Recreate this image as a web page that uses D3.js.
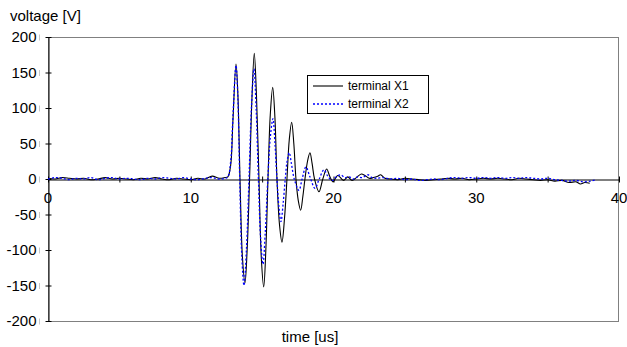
<!DOCTYPE html>
<html>
<head>
  <meta charset="utf-8">
  <title>voltage vs time</title>
  <style>
  body { margin: 0px; background: #fff; }
  text { font-family: "Liberation Sans", Arial, sans-serif; fill: #000; }
  .border { fill: none; stroke: #808080; stroke-width: 1px; }
  .x1 { fill: none; stroke: #000; stroke-width: 1.1px; }
  .x2 { fill: none; stroke: #0000ff; stroke-width: 1.3px; stroke-dasharray: 2,2; }
  </style>
</head>
<body>
  <svg width="627" height="347"></svg>
  <script src="https://d3js.org/d3.v7.min.js"></script>
  <script>
  // values: [time us, voltage V]
  var terminalX1 = [
    [0,1],[0.5,0],[1,2],[1.5,1],[2,0],[2.5,1],[3,-1],[3.5,0],[4,2],[4.5,0],[5,1],[5.5,0],
    [6,-1],[6.5,1],[7,0],[7.5,2],[8,0],[8.5,-1],[9,1],[9.5,0],[10,-1],[10.5,1],[11,0],
    [11.5,4],[12,1],[12.4,2],[12.6,3],[12.8,20],[12.95,80],[13.17,162],[13.3,120],[13.45,0],
    [13.62,-110],[13.8,-146],[13.95,-100],[14.12,0],[14.28,110],[14.45,177],[14.6,120],
    [14.78,0],[14.94,-110],[15.11,-152],[15.26,-100],[15.41,0],[15.57,90],[15.74,129],
    [15.9,85],[16.04,0],[16.22,-65],[16.39,-89],[16.57,-55],[16.74,0],[16.9,55],[17.07,80],
    [17.22,50],[17.37,0],[17.53,-30],[17.7,-44],[17.85,-25],[18.0,0],[18.18,25],[18.35,37],
    [18.5,22],[18.67,0],[18.98,-18],[19.25,0],[19.52,14],[19.75,3],[19.96,-4],[20.3,5],
    [20.7,-2],[21.0,3],[21.3,-2],[21.6,2],[21.95,7],[22.2,5],[22.5,1],[22.8,2],[23.1,4],
    [23.3,6],[23.6,1],[24,0],[24.5,-1],[25,1],[25.5,0],[26,-1],[26.5,-2],[27,-1],[27.5,0],
    [28,1],[28.5,0],[29,1],[29.5,-1],[30,0],[30.5,1],[31,0],[31.5,1],[32,0],[32.5,-1],
    [33,1],[33.5,0],[34,-1],[34.5,-2],[35,-1],[35.5,-3],[36,-2],[36.5,-5],[37,-4],
    [37.3,-7],[37.6,-5],[37.95,-6]
  ];
  var terminalX2 = [
    [0,0],[0.5,2],[1,1],[1.5,-1],[2,1],[2.5,0],[3,2],[3.5,-1],[4,1],[4.5,2],[5,0],[5.5,1],
    [6,0],[6.5,-1],[7,1],[7.5,0],[8,2],[8.5,1],[9,0],[9.5,2],[10,0],[10.5,-1],[11,1],
    [11.5,2],[12,0],[12.4,1],[12.6,3],[12.8,25],[12.95,85],[13.17,160],[13.3,115],[13.43,0],
    [13.58,-110],[13.73,-150],[13.9,-100],[14.08,0],[14.25,100],[14.43,155],[14.58,100],
    [14.74,0],[14.9,-85],[15.06,-120],[15.22,-75],[15.4,0],[15.58,60],[15.76,85],[15.9,50],
    [16.04,0],[16.18,-40],[16.32,-60],[16.47,-35],[16.62,0],[16.75,25],[16.9,37],[17.05,22],
    [17.25,0],[17.58,-16],[17.8,0],[18.07,17],[18.35,3],[18.7,-13],[19.0,0],[19.33,13],
    [19.6,4],[19.9,-2],[20.2,3],[20.5,6],[20.8,2],[21.1,3],[21.4,0],[21.7,3],[22.0,2],
    [22.4,6],[22.7,2],[23,1],[23.5,2],[24,0],[24.5,1],[25,-1],[25.5,0],[26,-2],[26.5,-1],
    [27,0],[27.5,-1],[28,1],[28.5,2],[29,1],[29.5,2],[30,1],[30.5,2],[31,1],[31.5,2],
    [32,1],[32.5,2],[33,1],[33.5,2],[34,1],[34.5,0],[35,1],[35.5,-1],[36,-2],[36.5,-3],
    [37,-2],[37.5,-4],[38,-3],[38.4,-1]
  ];
  var seriesNames = ["terminal X1", "terminal X2"];
  var xTicks = [0, 10, 20, 30, 40];
  var xMinorTicks = [0, 5, 10, 15, 20, 25, 30, 35, 40];
  var yTicks = [-200, -150, -100, -50, 0, 50, 100, 150, 200];

  var svg = d3.select("svg");
  var plotLeft = 48, plotRight = 619, plotTop = 37, plotBottom = 321;

  var x = d3.scaleLinear().domain([0, 40]).range([plotLeft, plotRight]);
  var y = d3.scaleLinear().domain([-200, 200]).range([plotBottom, plotTop]);

  // plot area border
  svg.append("rect")
    .attr("class", "border")
    .attr("x", plotLeft + 0.5).attr("y", plotTop + 0.5)
    .attr("width", plotRight - plotLeft - 1).attr("height", plotBottom - plotTop);

  // y axis (ticks cross the line), plain hyphen for negatives
  var yAxis = svg.append("g")
    .attr("transform", "translate(" + (plotLeft + 0.5) + ",0)")
    .call(d3.axisLeft(y).tickValues(yTicks).tickSize(0).tickPadding(12)
      .tickFormat(function(d) { return String(d); }));
  yAxis.select(".domain").attr("stroke", "#000");
  yAxis.selectAll(".tick").append("line")
    .attr("x1", -3).attr("x2", 3).attr("stroke", "#000");
  yAxis.selectAll(".tick").append("line")
    .attr("x1", -9).attr("x2", -9).attr("y1", -3).attr("y2", 3).attr("stroke", "#c8c8c8");
  yAxis.selectAll("text").attr("font-size", "15px").attr("font-family", null);

  // x axis at zero volts
  var xAxis = svg.append("g")
    .attr("transform", "translate(0," + (Math.round(y(0)) + 0.5) + ")")
    .call(d3.axisBottom(x).tickValues(xMinorTicks).tickSize(0).tickFormat(""));
  xAxis.select(".domain").attr("stroke", "#000");
  xAxis.selectAll(".tick").append("line")
    .attr("y1", -3).attr("y2", 3).attr("stroke", "#000");

  svg.append("g").selectAll("text")
    .data(xTicks).enter().append("text")
    .attr("x", function(d) { return x(d); })
    .attr("y", y(0) + 24)
    .attr("text-anchor", "middle")
    .attr("font-size", "15px")
    .text(function(d) { return d; });

  var line = d3.line()
    .x(function(d) { return x(d[0]); })
    .y(function(d) { return y(d[1]); })
    .curve(d3.curveCatmullRom);

  svg.append("path").datum(terminalX1).attr("class", "x1").attr("d", line);
  svg.append("path").datum(terminalX2).attr("class", "x2").attr("d", line);

  // axis titles
  svg.append("text").attr("x", 10).attr("y", 21).attr("font-size", "15px").text("voltage [V]");
  svg.append("text").attr("x", 310).attr("y", 342).attr("text-anchor", "middle")
    .attr("font-size", "15px").text("time [us]");

  // legend
  var lg = svg.append("g").attr("transform", "translate(307,75)");
  lg.append("rect").attr("x", 0.5).attr("y", 0.5).attr("width", 121).attr("height", 38)
    .attr("fill", "#fff").attr("stroke", "#000");
  seriesNames.forEach(function(name, i) {
    lg.append("line")
      .attr("class", i == 0 ? "x1" : "x2")
      .attr("x1", 6).attr("x2", 36)
      .attr("y1", 11 + i * 18).attr("y2", 11 + i * 18);
    lg.append("text")
      .attr("x", 41).attr("y", 15 + i * 18)
      .attr("font-size", "12px")
      .text(name);
  });
  </script>
</body>
</html>
